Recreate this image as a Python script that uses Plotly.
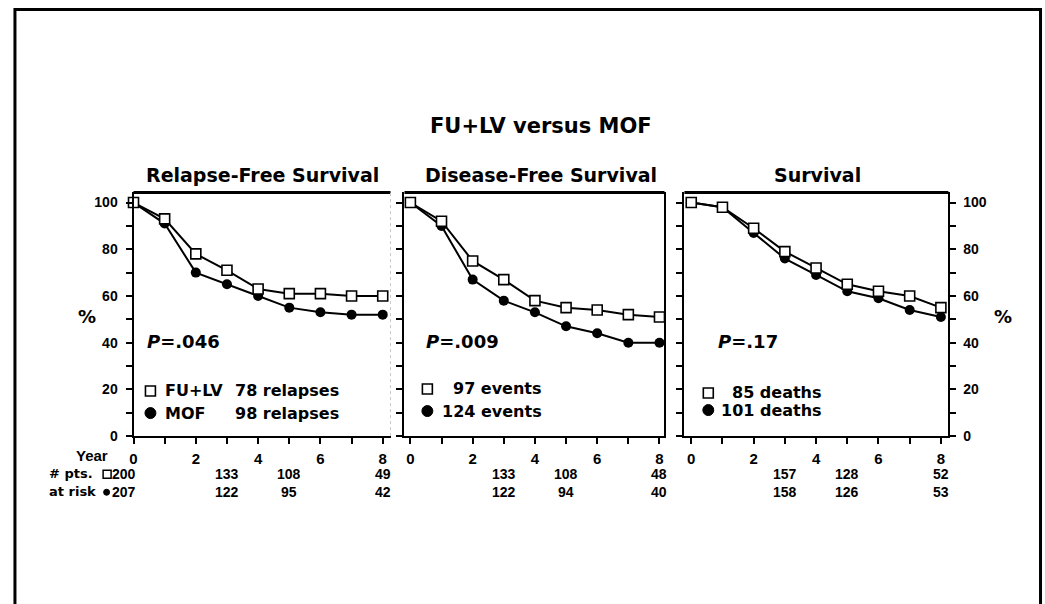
import plotly.graph_objects as go

# ---------------- data ----------------
years = [0, 1, 2, 3, 4, 5, 6, 7, 8]
rfs_fulv = [100, 93, 78, 71, 63, 61, 61, 60, 60]
rfs_mof = [100, 91, 70, 65, 60, 55, 53, 52, 52]
dfs_fulv = [100, 92, 75, 67, 58, 55, 54, 52, 51]
dfs_mof = [100, 90, 67, 58, 53, 47, 44, 40, 40]
os_fulv = [100, 98, 89, 79, 72, 65, 62, 60, 55]
os_mof = [100, 98, 87, 76, 69, 62, 59, 54, 51]

panel_titles = ["Relapse-Free Survival", "Disease-Free Survival", "Survival"]
p_values = ["=.046", "=.009", "=.17"]

risk_years = [0, 3, 5, 8]
rfs_risk_fulv = [200, 133, 108, 49]
rfs_risk_mof = [207, 122, 95, 42]
dfs_risk_fulv = [None, 133, 108, 48]
dfs_risk_mof = [None, 122, 94, 40]
os_risk_fulv = [None, 157, 128, 52]
os_risk_mof = [None, 158, 126, 53]

x_ticks = [0, 1, 2, 3, 4, 5, 6, 7, 8]
x_ticktext = ["0", "", "2", "", "4", "", "6", "", "8"]
y_ticks = [0, 10, 20, 30, 40, 50, 60, 70, 80, 90, 100]
y_ticktext = ["0", "", "20", "", "40", "", "60", "", "80", "", "100"]

# ---------------- layout helpers ----------------
W, H = 1045, 604
KY = 1.016  # small vertical correction for the rendered page


def px(x):
    return x / W


def py(y):
    return 1 - y * KY / H


BOLD = "DejaVu Sans"
ARIAL = "Liberation Sans"

panels = [
    dict(fulv=rfs_fulv, mof=rfs_mof, dom=[130, 388], rng=[0, 8.25],
         rf=rfs_risk_fulv, rm=rfs_risk_mof, tcx=259),
    dict(fulv=dfs_fulv, mof=dfs_mof, dom=[402, 663], rng=[-0.19, 8.16],
         rf=dfs_risk_fulv, rm=dfs_risk_mof, tcx=539),
    dict(fulv=os_fulv, mof=os_mof, dom=[683, 948], rng=[-0.22, 8.24],
         rf=os_risk_fulv, rm=os_risk_mof, tcx=817),
]
Y_TOP, Y_BOT = 192, 435
YR = [0, 104.3]

fig = go.Figure()
annotations = []
shapes = []

for i, p in enumerate(panels):
    n = "" if i == 0 else str(i + 1)
    xa, ya = "x" + n, "y" + n
    fig.add_trace(go.Scatter(
        x=years, y=p["mof"], xaxis=xa, yaxis=ya, mode="lines+markers",
        line=dict(color="black", width=2),
        marker=dict(symbol="circle", size=10, color="black"),
        cliponaxis=False, showlegend=False))
    fig.add_trace(go.Scatter(
        x=years, y=p["fulv"], xaxis=xa, yaxis=ya, mode="lines+markers",
        line=dict(color="black", width=2),
        marker=dict(symbol="square", size=10, color="white",
                    line=dict(color="black", width=1.6)),
        cliponaxis=False, showlegend=False))

    xaxis = dict(domain=[px(p["dom"][0]), px(p["dom"][1])], range=p["rng"],
                 anchor=ya, tickvals=x_ticks, ticktext=x_ticktext,
                 ticks="outside", ticklen=6, tickwidth=2, tickcolor="black",
                 ticklabelstandoff=2,
                 showline=True, linewidth=2, linecolor="black",
                 showgrid=False, zeroline=False,
                 tickfont=dict(family=ARIAL, size=15, color="black", weight="bold"))
    yaxis = dict(domain=[py(Y_BOT), py(Y_TOP)], range=YR, anchor=xa,
                 tickvals=y_ticks, ticktext=y_ticktext,
                 ticks="outside", ticklen=6, tickwidth=2, tickcolor="black",
                 showline=True, linewidth=2, linecolor="black",
                 showgrid=False, zeroline=False,
                 tickfont=dict(family=ARIAL, size=14, color="black", weight="bold"))
    if i == 0:
        yaxis["mirror"] = False
        yaxis["ticklabelstandoff"] = 5
    elif i == 1:
        yaxis["mirror"] = True
        yaxis["showticklabels"] = False
    else:
        yaxis["side"] = "right"
        yaxis["mirror"] = "ticks"
        yaxis["ticklabelstandoff"] = 4
    fig.layout["xaxis" + n] = xaxis
    fig.layout["yaxis" + n] = yaxis

    # thick top border
    shapes.append(dict(type="line", xref="paper", yref="paper",
                       x0=px(p["dom"][0]), x1=px(p["dom"][1]),
                       y0=py(Y_TOP), y1=py(Y_TOP),
                       line=dict(color="black", width=3)))

    # panel title
    annotations.append(dict(x=px(p["tcx"]), y=py(175), xref="paper", yref="paper",
                            text="<b>" + panel_titles[i] + "</b>", showarrow=False,
                            xanchor="center", yanchor="middle",
                            font=dict(family=BOLD, size=19, color="black")))
    # P value
    annotations.append(dict(x=px([142, 422, 715][i]), y=py(341), xref="paper",
                            yref="paper",
                            text="<b><i>P</i>" + p_values[i] + "</b>",
                            showarrow=False, xanchor="left", yanchor="middle",
                            font=dict(family=BOLD, size=18, color="black")))

    # numbers at risk
    for k, yr in enumerate(risk_years):
        for row, vals in ((473, p["rf"]), (491, p["rm"])):
            v = vals[k]
            if v is None:
                continue
            annotations.append(dict(x=yr, y=py(row), xref=xa, yref="paper",
                                    text="<b>%d</b>" % v, showarrow=False,
                                    xanchor="center",
                                    xshift=-10 if yr == 0 else 0,
                                    yanchor="middle",
                                    font=dict(family=ARIAL, size=14, color="black")))

# faint right border of first panel
shapes.append(dict(type="line", xref="paper", yref="paper",
                   x0=px(388), x1=px(388), y0=py(Y_BOT), y1=py(Y_TOP),
                   line=dict(color="#c8c8c8", width=1, dash="dot")))

# outer frame
shapes.append(dict(type="rect", xref="paper", yref="paper",
                   x0=px(11), x1=px(1040.5), y0=-0.1, y1=py(9.5),
                   line=dict(color="black", width=3)))

# main title
annotations.append(dict(x=px(539), y=py(126), xref="paper", yref="paper",
                        text="<b>FU+LV versus MOF</b>", showarrow=False,
                        xanchor="center", yanchor="middle",
                        font=dict(family=BOLD, size=21, color="black")))

# % labels
for xx in (83, 1003):
    annotations.append(dict(x=px(xx), y=py(316), xref="paper", yref="paper",
                            text="<b>%</b>", showarrow=False,
                            xanchor="center", yanchor="middle",
                            font=dict(family=BOLD, size=18, color="black")))

LEG = 16


def leg_text(x, y, text, anchor="left"):
    annotations.append(dict(x=px(x), y=py(y), xref="paper", yref="paper",
                            text="<b>" + text + "</b>", showarrow=False,
                            xanchor=anchor, yanchor="middle",
                            font=dict(family=BOLD, size=LEG, color="black")))


def sq(x, y, s=10, w=1.6):
    shapes.append(dict(type="rect", xref="paper", yref="paper",
                       x0=px(x - s / 2), x1=px(x + s / 2),
                       y0=py(y + s / 2), y1=py(y - s / 2),
                       line=dict(color="black", width=w), fillcolor="white"))


def dot(x, y, s=11):
    shapes.append(dict(type="circle", xref="paper", yref="paper",
                       x0=px(x - s / 2), x1=px(x + s / 2),
                       y0=py(y + s / 2), y1=py(y - s / 2),
                       line=dict(color="black", width=1), fillcolor="black"))


# panel 1 legend
sq(147, 390)
dot(147, 412)
leg_text(160, 390, "FU+LV")
leg_text(230, 390, "78 relapses")
leg_text(160, 412, "MOF")
leg_text(230, 412, "98 relapses")
# panel 2 legend
sq(425, 388)
dot(425, 410)
leg_text(542, 388, "97 events", "right")
leg_text(542, 410, "124 events", "right")
# panel 3 legend
sq(707, 392)
dot(707, 409)
leg_text(823, 392, "85 deaths", "right")
leg_text(823, 409, "101 deaths", "right")

# table labels
annotations.append(dict(x=px(106), y=py(454), xref="paper", yref="paper",
                        text="<b>Year</b>", showarrow=False, xanchor="right",
                        yanchor="middle",
                        font=dict(family=ARIAL, size=15, color="black")))
annotations.append(dict(x=px(43), y=py(472), xref="paper", yref="paper",
                        text="<b># pts.</b>", showarrow=False, xanchor="left",
                        yanchor="middle",
                        font=dict(family=BOLD, size=13, color="black")))
annotations.append(dict(x=px(43), y=py(490), xref="paper", yref="paper",
                        text="<b>at risk</b>", showarrow=False, xanchor="left",
                        yanchor="middle",
                        font=dict(family=BOLD, size=13, color="black")))
sq(103.5, 473, s=8, w=1.5)
dot(103, 491, s=6)

fig.update_layout(
    width=W, height=H,
    margin=dict(l=0, r=0, t=0, b=0),
    paper_bgcolor="white", plot_bgcolor="white",
    annotations=annotations, shapes=shapes,
    showlegend=False,
)

fig.write_html(
    "out.html",
    config={"displayModeBar": False},
    post_script=(
        "var de=document.documentElement, b=document.body;"
        "de.style.margin='0';de.style.padding='0';de.style.overflow='hidden';"
        "b.style.margin='0';b.style.padding='0';b.style.overflow='hidden';"
    ),
)
